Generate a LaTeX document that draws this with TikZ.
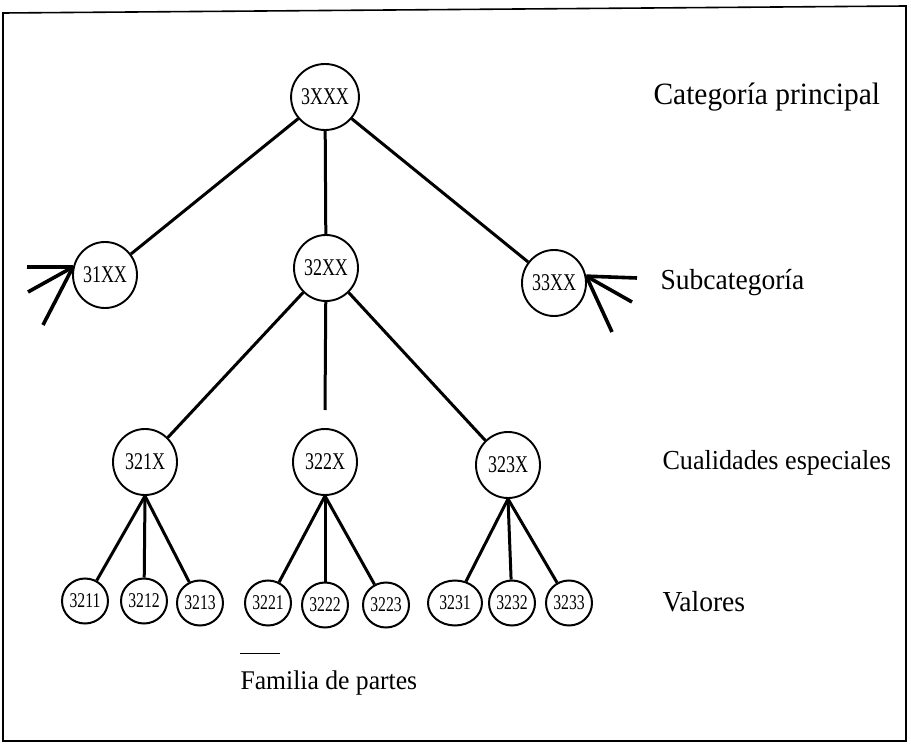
\documentclass[tikz,border=0pt]{standalone}
\usepackage{fontspec}
\setmainfont{Liberation Serif}
\newfontfamily\numfont{Liberation Serif}[FakeStretch=0.75]
\newfontfamily\labelfont{Liberation Serif}[FakeStretch=0.95]
\usetikzlibrary{shapes.geometric}
\begin{document}
\begin{tikzpicture}[x=1pt,y=-1pt,
  bignode/.style={draw, ellipse, line width=1.9pt, inner sep=0pt,
    minimum width=64pt, minimum height=66pt, font=\numfont\fontsize{24}{24}\selectfont},
  leafnode/.style={draw, ellipse, line width=2pt, inner sep=0pt,
    minimum width=46pt, minimum height=45pt, font=\numfont\fontsize{21}{21}\selectfont},
  edge/.style={line width=3pt},
  stub/.style={line width=3.6pt},
  level/.style={anchor=west, font=\labelfont\fontsize{29}{29}\selectfont}]
\useasboundingbox (0,0) rectangle (911,746);
% outer frame
\draw[line width=1.6pt] (3,13) -- (906,6) -- (906,741) -- (3,741) -- cycle;

% tree nodes
\node[bignode] (root) at (325,97) {3XXX};
\node[bignode] (s1) at (105,275) {31XX};
\node[bignode] (s2) at (326,268) {32XX};
\node[bignode] (s3) at (554,283) {33XX};
\node[bignode] (q1) at (145,462) {321X};
\node[bignode] (q2) at (325,462) {322X};
\node[bignode] (q3) at (508,465) {323X};
\node[leafnode] (v11) at (85,601) {3211};
\node[leafnode] (v12) at (144,601) {3212};
\node[leafnode] (v13) at (200,603) {3213};
\node[leafnode] (v21) at (268,603) {3221};
\node[leafnode] (v22) at (325,605) {3222};
\node[leafnode] (v23) at (386,605) {3223};
\node[leafnode, minimum width=54pt] (v31) at (455,603) {3231};
\node[leafnode] (v32) at (512,603) {3232};
\node[leafnode] (v33) at (569,603) {3233};

% connectors
\draw[edge] (root) -- (s1);
\draw[edge] (root) -- (s2);
\draw[edge] (root) -- (s3);
\draw[edge] (s2) -- (q1);
\coordinate (q2top) at (325,410);
\draw[edge] (s2) -- (q2top);
\draw[edge] (s2) -- (q3);
\foreach \p/\a/\b/\c in {q1/v11/v12/v13, q2/v21/v22/v23, q3/v31/v32/v33} {
  \draw[edge] (\p.south) -- (\a);
  \draw[edge] (\p.south) -- (\b);
  \draw[edge] (\p.south) -- (\c);
}

% open stubs on the side subcategories
\coordinate (l1) at (27,267);
\coordinate (l2) at (28,292);
\coordinate (l3) at (43,325);
\coordinate (r1) at (637,278);
\coordinate (r2) at (632,302);
\coordinate (r3) at (612,332);
\foreach \e in {l1,l2,l3} \draw[stub] (s1.166) -- (\e);
\foreach \e in {r1,r2,r3} \draw[stub] (s3.12) -- (\e);

% level labels
\node[level, font=\labelfont\fontsize{31}{31}\selectfont] (t1) at (650,97) {Categoría principal};
\node[level] (t2) at (657,283) {Subcategoría};
\node[level, font=\labelfont\fontsize{27.5}{27.5}\selectfont] (t3) at (659,463) {Cualidades especiales};
\node[level] (t4) at (659,602) {Valores};
\node[anchor=west, font=\labelfont\fontsize{27}{27}\selectfont] (fam) at (237,683) {Familia de partes};
\coordinate (d1) at (240,653);
\coordinate (d2) at (280,653);
\draw[line width=0.8pt] (d1) -- (d2);
\end{tikzpicture}
\end{document}
